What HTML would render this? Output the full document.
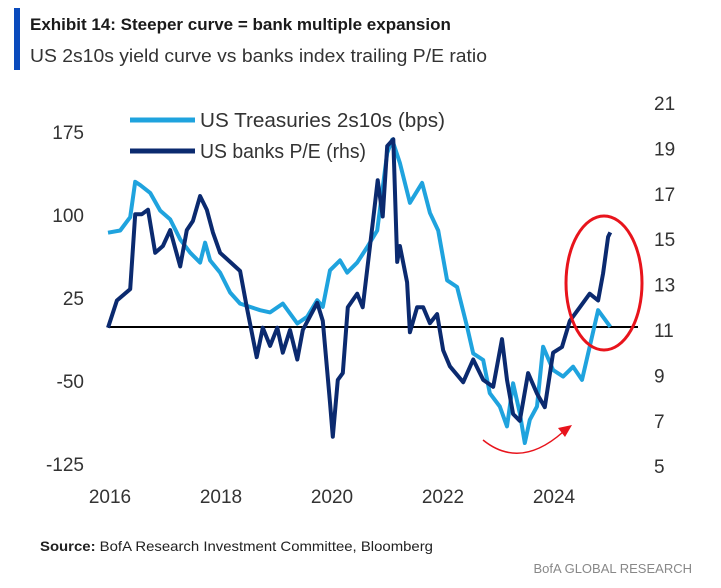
<!DOCTYPE html>
<html><head><meta charset="utf-8"><style>
body{margin:0;background:#fff;width:721px;height:583px;overflow:hidden;font-family:"Liberation Sans",sans-serif}
</style></head><body>
<svg width="721" height="583" viewBox="0 0 721 583">
<rect x="14" y="8" width="6" height="62" fill="#0a4bbd"/>
<text x="30" y="30" font-size="17" font-weight="bold" fill="#1a1a1a">Exhibit 14: Steeper curve = bank multiple expansion</text>
<text x="30" y="62" font-size="16" fill="#333" textLength="457" lengthAdjust="spacingAndGlyphs" style="font-size:18px">US 2s10s yield curve vs banks index trailing P/E ratio</text>
<g id="axes" font-size="19" fill="#333"></g>
<line x1="108" y1="327" x2="638" y2="327" stroke="#000" stroke-width="2"/>
<path id="ust" fill="none" stroke="#1fa3de" stroke-width="4" stroke-linejoin="round"/>
<path id="pe" fill="none" stroke="#0b2a6f" stroke-width="4" stroke-linejoin="round"/>
<ellipse cx="604" cy="283" rx="38" ry="67" fill="none" stroke="#e8141c" stroke-width="3"/>
<path d="M483 440 Q520 470 563 432" fill="none" stroke="#e8141c" stroke-width="1.5"/>
<polygon points="572,425 558,428 565,437" fill="#e8141c"/>
<line x1="130" y1="120" x2="195" y2="120" stroke="#1fa3de" stroke-width="5"/>
<text x="200" y="127" font-size="20" textLength="245" lengthAdjust="spacingAndGlyphs" fill="#333">US Treasuries 2s10s (bps)</text>
<line x1="130" y1="151" x2="195" y2="151" stroke="#0b2a6f" stroke-width="5"/>
<text x="200" y="158" font-size="20" textLength="166" lengthAdjust="spacingAndGlyphs" fill="#333">US banks P/E (rhs)</text>
<text x="40" y="551" font-size="14" textLength="393" lengthAdjust="spacingAndGlyphs" fill="#222"><tspan font-weight="bold">Source:</tspan> BofA Research Investment Committee, Bloomberg</text>
<text x="692" y="573" font-size="13" fill="#888" text-anchor="end">BofA GLOBAL RESEARCH</text>
</svg>
<script>
const leftTicks=[175,100,25,-50,-125];
const rightTicks=[21,19,17,15,13,11,9,7,5];
const xTicks=[2016,2018,2020,2022,2024];
const ustDates=[0,.22,.40,.49,.58,.76,.94,1.12,1.30,1.48,1.66,1.75,1.84,2.02,2.20,2.38,2.56,2.74,2.92,3.15,3.41,3.59,3.77,3.87,4.00,4.18,4.31,4.49,4.67,4.85,5.03,5.12,5.26,5.44,5.66,5.80,5.95,6.11,6.29,6.47,6.58,6.76,6.88,7.06,7.19,7.30,7.42,7.51,7.60,7.73,7.84,8.02,8.20,8.38,8.54,8.68,8.83,9.05];
const ustValues=[84,86,98,130,127,120,104,96,78,66,57,75,59,48,30,20,17,14,12,20,2,8,23,17,50,59,48,57,71,86,156,168,147,111,129,102,86,41,35,-1,-25,-31,-61,-73,-91,-52,-79,-106,-85,-73,-19,-40,-46,-37,-49,-19,14,-1];
const peDates=[0,.16,.40,.49,.61,.72,.85,.99,1.12,1.30,1.42,1.53,1.66,1.78,1.89,2.02,2.20,2.38,2.50,2.68,2.79,2.92,3.05,3.15,3.28,3.41,3.51,3.77,3.87,4.00,4.05,4.14,4.23,4.32,4.49,4.59,4.77,4.86,4.95,5.03,5.14,5.21,5.26,5.39,5.44,5.57,5.68,5.80,5.93,6.04,6.16,6.40,6.58,6.76,6.94,7.10,7.19,7.30,7.42,7.57,7.73,7.87,8.02,8.18,8.32,8.50,8.68,8.83,8.92,9.01,9.05];
const peValues=[11.1,12.3,12.8,16.1,16.1,16.3,14.4,14.7,15.4,13.8,15.4,15.8,16.9,16.3,15.3,14.4,14.0,13.6,12.0,9.8,11.1,10.3,11.1,10.0,11.0,9.7,11.0,12.2,11.4,7.8,6.3,8.8,9.1,12.0,12.6,12.0,15.7,17.6,16.0,19.1,19.4,14.0,14.7,13.1,10.9,12.0,12.0,11.3,11.7,10.1,9.4,8.7,9.7,8.8,8.5,10.6,8.8,7.3,7.0,9.1,8.2,7.6,10.0,10.25,11.4,12.0,12.6,12.3,13.5,15.1,15.3];
const xS=t=>108+t*55.5;
const yL=v=>325.7-v*1.107;
const yR=v=>330-(v-11)*22.7;
const NS='http://www.w3.org/2000/svg';
const ax=document.getElementById('axes');
function txt(x,y,s,anchor){const t=document.createElementNS(NS,'text');t.setAttribute('x',x);t.setAttribute('y',y);t.setAttribute('text-anchor',anchor);t.textContent=s;ax.appendChild(t);return t;}
leftTicks.forEach(v=>{const t=txt(84,yL(v)+7,v,'end');

});
rightTicks.forEach(v=>{const t=txt(654,yR(v)+7,v,'start');

});
xTicks.forEach(y=>{const t=txt(xS(y-2016)+2,503,y,'middle');

});
document.getElementById('ust').setAttribute('d',ustDates.map((d,i)=>(i?'L':'M')+xS(d).toFixed(1)+' '+yL(ustValues[i]).toFixed(1)).join(' '));
document.getElementById('pe').setAttribute('d',peDates.map((d,i)=>(i?'L':'M')+xS(d).toFixed(1)+' '+yR(peValues[i]).toFixed(1)).join(' '));
</script>
</body></html>
